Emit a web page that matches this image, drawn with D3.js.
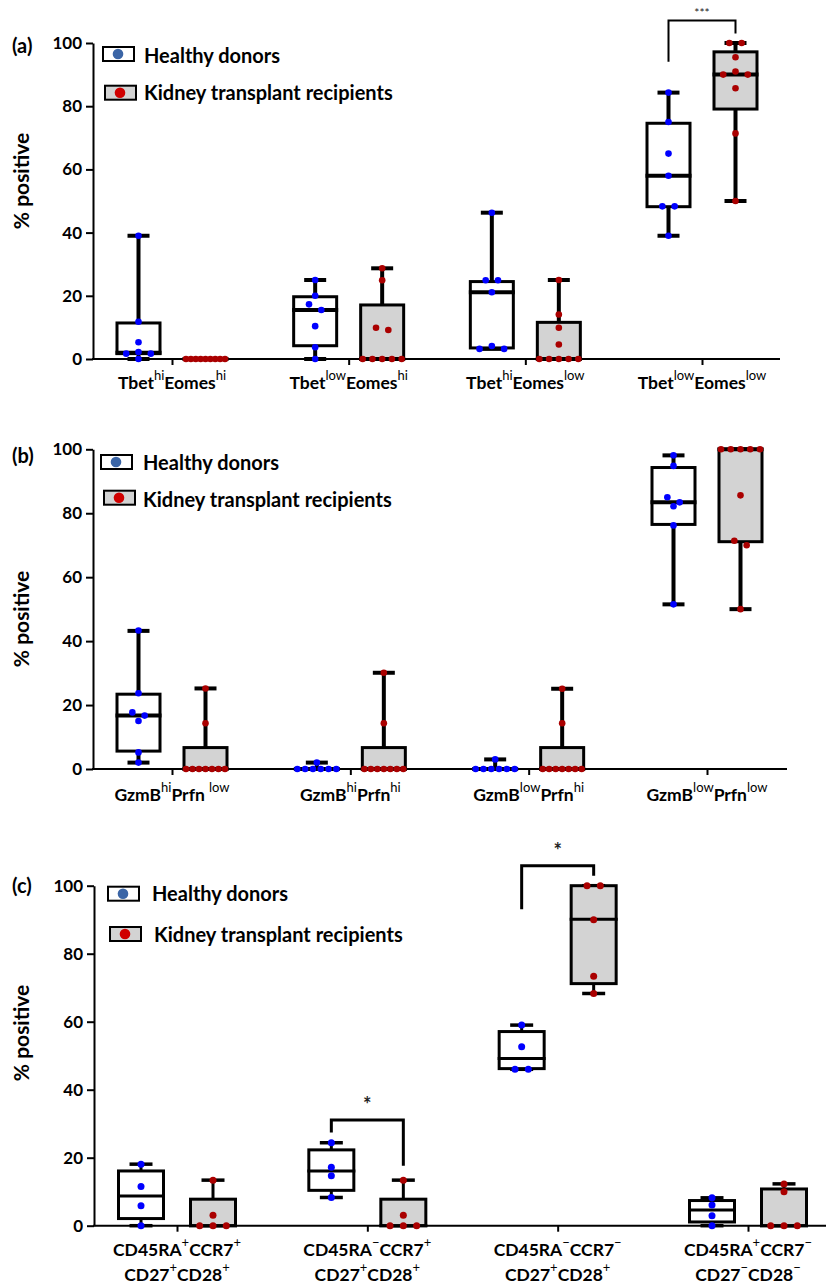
<!DOCTYPE html>
<html>
<head>
<meta charset="utf-8">
<script src="https://cdn.jsdelivr.net/npm/d3@7"></script>
<style>
  html, body { margin: 0; padding: 0; background: #fff; }
  text { font-family: Lato, "Open Sans", sans-serif; white-space: pre; }
</style>
</head>
<body>
<script>
// ---------------- DATA ----------------
const seriesNames = ["Healthy donors", "Kidney transplant recipients"];
const yTicks = [0, 20, 40, 60, 80, 100];

// Panel (a)
const catsA = ["Tbet{hi}Eomes{hi}", "Tbet{low}Eomes{hi}", "Tbet{hi}Eomes{low}", "Tbet{low}Eomes{low}"];
const hdPointsA = [
  [39, 11.8, 5.3, 2.2, 1.7, 1.7, 0],
  [25, 20, 17.3, 15.5, 10.4, 3.7, 0],
  [46.3, 24.9, 24.9, 21.1, 4.1, 3.2, 3.2],
  [84.3, 75, 65, 58, 48.3, 48.3, 39]
];
const ktrPointsA = [
  [0, 0, 0, 0, 0, 0, 0, 0, 0],
  [28.7, 24.9, 9.9, 9.2, 0, 0, 0, 0, 0],
  [25, 14.1, 9.9, 4.6, 0, 0, 0, 0, 0],
  [100, 100, 95.5, 91, 90, 90, 85.7, 71.4, 50]
];
// [min, q1, median, q3, max]
const hdBoxA = [[0, 1.7, 2, 11.4, 39], [0, 4.2, 15.5, 19.7, 25], [3.2, 3.5, 21.1, 24.5, 46.3], [39, 48.2, 58, 74.6, 84.3]];
const ktrBoxA = [[0, 0, 0, 0, 0], [0, 0, 0, 17.1, 28.7], [0, 0, 0, 11.6, 25], [50, 79.1, 90, 97.2, 100]];
// [category index, left foot, top, right foot, label]
const bracketsA = [[3, 94.1, 107.1, 103, "***"]];

// Panel (b)
const catsB = ["GzmB{hi}Prfn {low}", "GzmB{hi}Prfn{hi}", "GzmB{low}Prfn{hi}", "GzmB{low}Prfn{low}"];
const hdPointsB = [
  [43.3, 23.7, 17.7, 16.7, 15, 5.2, 2],
  [2, 0, 0, 0, 0, 0, 0],
  [3, 0, 0, 0, 0, 0, 0],
  [98.1, 94.8, 85, 83.4, 82.2, 76.2, 51.5]
];
const ktrPointsB = [
  [25.2, 14.3, 0, 0, 0, 0, 0, 0, 0],
  [30.1, 14.3, 0, 0, 0, 0, 0, 0, 0],
  [25.1, 14.3, 0, 0, 0, 0, 0, 0, 0],
  [100, 100, 100, 100, 100, 85.6, 71.4, 70, 50]
];
const hdBoxB = [[2, 5.6, 16.7, 23.4, 43.2], [0, 0, 0, 0, 2], [0, 0, 0, 0, 3], [51.5, 76.5, 83.4, 94.3, 98.1]];
const ktrBoxB = [[0, 0, 0, 6.7, 25.2], [0, 0, 0, 6.7, 30.1], [0, 0, 0, 6.7, 25.1], [50, 71.1, 100, 100, 100]];
const bracketsB = [];

// Panel (c)
const catsC = [
  ["CD45RA{+}CCR7{+}", "CD27{+}CD28{+}"],
  ["CD45RA{\u2212}CCR7{+}", "CD27{+}CD28{+}"],
  ["CD45RA{\u2212}CCR7{\u2212}", "CD27{+}CD28{+}"],
  ["CD45RA{+}CCR7{\u2212}", "CD27{\u2212}CD28{\u2212}"]
];
const hdPointsC = [
  [18.1, 11.5, 5.9, 0],
  [24.4, 17.2, 14.7, 8.3],
  [59, 52.6, 46, 46],
  [8.2, 6.1, 2.9, 0]
];
const ktrPointsC = [
  [13.4, 3.1, 0, 0, 0],
  [13.4, 3.1, 0, 0, 0],
  [100, 100, 90, 73.4, 68.3],
  [12.3, 10, 0, 0, 0]
];
const hdBoxC = [[0, 2.1, 8.7, 16.1, 18.1], [8.3, 10.4, 16.1, 22.3, 24.4], [46, 46.2, 49.2, 57.1, 59], [0, 1.1, 4.6, 7.4, 8.2]];
const ktrBoxC = [[0, 0, 0, 7.8, 13.4], [0, 0, 0, 7.8, 13.4], [68.3, 71.2, 90.1, 100, 100], [0, 0, 0, 10.8, 12.3]];
const bracketsC = [[1, 27.4, 31.1, 17.6, "*"], [2, 93.1, 105.9, 102.9, "*"]];

// ---------------- LAYOUT ----------------
const panels = [
  { label: "(a)", cats: catsA, hd: hdPointsA, ktr: ktrPointsA, hdBox: hdBoxA, ktrBox: ktrBoxA, brackets: bracketsA,
    g: { y0: 359, y100: 43, ax: 93, axEnd: 780, c0: 172, c1: 702, off: 33.5, boxW: 43, capW: 22, r: 3.3, sp: 12.3,
         stem: 4, boxSW: 3, medSW: 4, capSW: 4, brSW: 2, starSize: 12, starWeight: "normal", starDy: 4,
         lblY: [389], ylabY: 181, plY: 53,
         leg: [[103, 47, 144, 63.3], [105, 85.7, 144, 100]] } },
  { label: "(b)", cats: catsB, hd: hdPointsB, ktr: ktrPointsB, hdBox: hdBoxB, ktrBox: ktrBoxB, brackets: bracketsB,
    g: { y0: 769, y100: 449.3, ax: 93, axEnd: 787, c0: 172, c1: 707, off: 33.5, boxW: 43, capW: 22, r: 3.3, sp: 12.3,
         stem: 4, boxSW: 3, medSW: 4, capSW: 4, brSW: 2, starSize: 12, starWeight: "normal", starDy: 4,
         lblY: [800.5], ylabY: 619, plY: 463,
         leg: [[101, 455, 143, 470], [104, 490.7, 143, 506.5]] } },
  { label: "(c)", cats: catsC, hd: hdPointsC, ktr: ktrPointsC, hdBox: hdBoxC, ktrBox: ktrBoxC, brackets: bracketsC,
    g: { y0: 1225.7, y100: 885.7, ax: 94, axEnd: 826, c0: 177, c1: 748, off: 36, boxW: 45, capW: 23, r: 3.5, sp: 13.3,
         stem: 3, boxSW: 3, medSW: 3, capSW: 3.5, brSW: 3, starSize: 20, starWeight: "bold", starDy: 8,
         lblY: [1256, 1281], ylabY: 1033, plY: 893,
         leg: [[108, 886.7, 152, 900.7], [110, 927, 154, 942.3]] } }
];

const HD_DOT = "#0000ff", KTR_DOT = "#aa0000";
const HD_FILL = "#ffffff", KTR_FILL = "#d3d3d3";
const LEG_DOT = ["#3b65a6", "#d00000"];

const svg = d3.select("body").append("svg").attr("width", 826).attr("height", 1286);

function parseRich(s) {
  const out = [];
  const re = /([^{}]+)|\{([^}]*)\}/g;
  let m;
  while ((m = re.exec(s)) !== null) {
    if (m[1] !== undefined) out.push({ t: m[1], sup: false });
    else out.push({ t: m[2], sup: true });
  }
  return out;
}

function richText(sel, x, y, str, size) {
  const t = sel.append("text").attr("x", x).attr("y", y).attr("text-anchor", "middle")
    .attr("font-size", size).attr("font-weight", "bold").attr("fill", "#000");
  let cur = 0;
  parseRich(str).forEach(seg => {
    const target = seg.sup ? -9 : 0;
    const ts = t.append("tspan").text(seg.t).attr("dy", target - cur);
    cur = target;
    if (seg.sup) ts.attr("font-size", 13).attr("font-weight", "normal");
  });
  return t;
}

function layoutDots(vals, y, base, span, thr) {
  const idx = vals.map((v, i) => ({ v, i })).sort((a, b) => b.v - a.v);
  const rows = [];
  idx.forEach(p => {
    const last = rows[rows.length - 1];
    if (last && Math.abs(y(last[0].v) - y(p.v)) < thr) last.push(p);
    else rows.push([p]);
  });
  const res = [];
  rows.forEach(row => {
    const n = row.length;
    const s = n > 1 ? Math.min(base, span / (n - 1)) : 0;
    const offs = [];
    if (n % 2 === 1) { offs.push(0); for (let k = 1; offs.length < n; k++) { offs.push(-k * s); if (offs.length < n) offs.push(k * s); } }
    else { for (let k = 0; offs.length < n; k++) { offs.push(-(k + 0.5) * s); offs.push((k + 0.5) * s); } }
    row.forEach((p, j) => res.push({ v: p.v, dx: offs[j] }));
  });
  return res;
}

panels.forEach(P => {
  const g = P.g;
  const G = svg.append("g");
  const y = d3.scaleLinear().domain([0, 100]).range([g.y0, g.y100]);
  const x = d3.scalePoint().domain(d3.range(P.cats.length)).range([g.c0, g.c1]);

  // Y axis
  const yAxis = d3.axisLeft(y).tickValues(yTicks).tickSize(7).tickSizeOuter(0).tickPadding(4);
  const ya = G.append("g").attr("transform", `translate(${g.ax},0)`).call(yAxis);
  ya.select(".domain").attr("stroke", "#000").attr("stroke-width", 2);
  ya.selectAll(".tick line").attr("stroke", "#000").attr("stroke-width", 2);
  ya.selectAll(".tick text").attr("font-family", "Lato").attr("font-size", 17).attr("font-weight", "bold").attr("fill", "#000");

  // X axis
  G.append("line").attr("x1", g.ax - 1).attr("x2", g.axEnd).attr("y1", g.y0).attr("y2", g.y0)
    .attr("stroke", "#000").attr("stroke-width", 2);
  const xAxis = d3.axisBottom(x).tickSize(6).tickSizeOuter(0).tickFormat("");
  const xa = G.append("g").attr("transform", `translate(0,${g.y0})`).call(xAxis);
  xa.select(".domain").remove();
  xa.selectAll(".tick line").attr("stroke", "#000").attr("stroke-width", 2);

  // category labels
  P.cats.forEach((c, i) => {
    const lines = Array.isArray(c) ? c : [c];
    lines.forEach((ln, k) => richText(G, x(i), g.lblY[k], ln, 17.5));
  });

  // boxes
  const series = [
    { pts: P.hd, box: P.hdBox, sign: -1, fill: HD_FILL, dot: HD_DOT },
    { pts: P.ktr, box: P.ktrBox, sign: 1, fill: KTR_FILL, dot: KTR_DOT }
  ];
  series.forEach(S => {
    S.box.forEach((b, i) => {
      const cx = x(i) + S.sign * g.off;
      const [mn, q1, md, q3, mx] = b;
      G.append("line").attr("x1", cx).attr("x2", cx).attr("y1", y(mn)).attr("y2", y(mx))
        .attr("stroke", "#000").attr("stroke-width", g.stem);
      [mn, mx].forEach(v => G.append("line").attr("x1", cx - g.capW / 2).attr("x2", cx + g.capW / 2)
        .attr("y1", y(v)).attr("y2", y(v)).attr("stroke", "#000").attr("stroke-width", g.capSW));
      G.append("rect").attr("x", cx - g.boxW / 2).attr("width", g.boxW)
        .attr("y", y(q3)).attr("height", Math.max(0, y(q1) - y(q3)))
        .attr("fill", S.fill).attr("stroke", "#000").attr("stroke-width", g.boxSW);
      G.append("line").attr("x1", cx - g.boxW / 2 - 1.5).attr("x2", cx + g.boxW / 2 + 1.5)
        .attr("y1", y(md)).attr("y2", y(md)).attr("stroke", "#000").attr("stroke-width", g.medSW);
    });
  });
  // dots on top
  series.forEach(S => {
    S.pts.forEach((vals, i) => {
      const cx = x(i) + S.sign * g.off;
      const laid = layoutDots(vals, y, g.sp, 39, 6.2);
      G.selectAll(null).data(laid).enter().append("circle")
        .attr("cx", d => cx + d.dx).attr("cy", d => y(d.v)).attr("r", g.r).attr("fill", S.dot);
    });
  });

  // brackets
  P.brackets.forEach(br => {
    const [ci, lf, top, rf, lab] = br;
    const xl = x(ci) - g.off, xr = x(ci) + g.off;
    G.append("path").attr("d", `M${xl},${y(lf)}V${y(top)}H${xr}V${y(rf)}`)
      .attr("fill", "none").attr("stroke", "#000").attr("stroke-width", g.brSW);
    G.append("text").attr("x", (xl + xr) / 2).attr("y", y(top) - g.starDy).attr("text-anchor", "middle")
      .attr("font-size", g.starSize).attr("font-weight", g.starWeight).attr("fill", "#222").text(lab);
  });

  // y label
  G.append("text").attr("transform", `translate(29,${g.ylabY}) rotate(-90)`).attr("text-anchor", "middle")
    .attr("font-size", 21).attr("font-weight", "bold").attr("fill", "#000").text("% positive");
  // panel label
  G.append("text").attr("x", 12).attr("y", g.plY).attr("font-size", 20).attr("font-weight", "bold")
    .attr("fill", "#000").text(P.label);

  // legend
  g.leg.forEach((L, k) => {
    const [bx, by, tx, ty] = L;
    G.append("rect").attr("x", bx).attr("y", by).attr("width", 31).attr("height", 14)
      .attr("fill", k === 0 ? HD_FILL : KTR_FILL).attr("stroke", "#000").attr("stroke-width", 2);
    G.append("circle").attr("cx", bx + 15).attr("cy", by + 7).attr("r", 5.3).attr("fill", LEG_DOT[k]);
    G.append("text").attr("x", tx).attr("y", ty).attr("font-size", 20).attr("font-weight", "bold")
      .attr("fill", "#000").text(seriesNames[k]);
  });
});
</script>
</body>
</html>
